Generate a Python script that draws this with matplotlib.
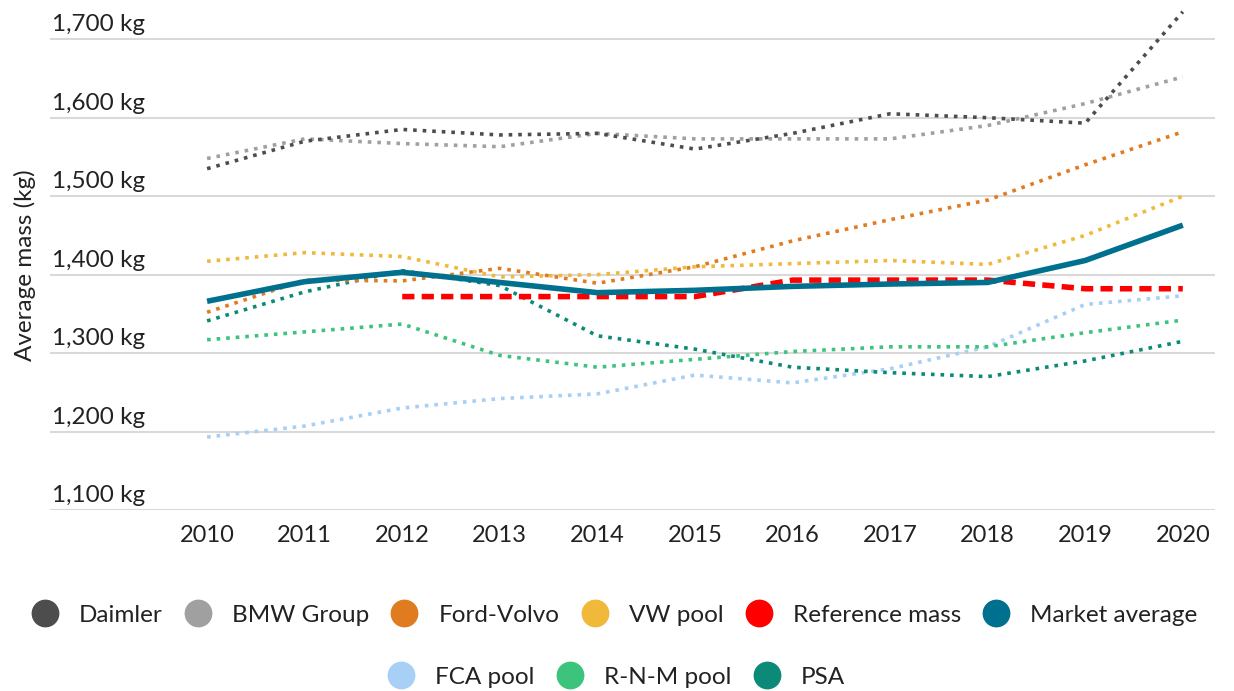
import numpy as np
import matplotlib.pyplot as plt
from matplotlib.lines import Line2D
from matplotlib.transforms import blended_transform_factory

plt.rcParams['font.family'] = ['Lato', 'DejaVu Sans']

years = list(range(2010, 2021))

daimler = [1535, 1570, 1585, 1578, 1580, 1560, 1580, 1605, 1600, 1593, 1735]
bmw = [1548, 1573, 1567, 1563, 1580, 1573, 1573, 1573, 1590, 1618, 1652]
ford_volvo = [1352, 1393, 1392, 1408, 1389, 1410, 1443, 1470, 1495, 1540, 1582]
vw_pool = [1417, 1428, 1423, 1397, 1400, 1410, 1414, 1418, 1413, 1450, 1500]
reference_years = list(range(2012, 2021))
reference_mass = [1372, 1372, 1372, 1372, 1393, 1393, 1393, 1382, 1382]
market_avg = [1366, 1391, 1403, 1390, 1377, 1380, 1385, 1388, 1390, 1418, 1463]
fca_pool = [1193, 1207, 1230, 1242, 1248, 1272, 1262, 1280, 1308, 1362, 1373]
rnm_pool = [1317, 1327, 1337, 1297, 1282, 1292, 1302, 1308, 1308, 1326, 1342]
psa = [1341, 1378, 1405, 1386, 1322, 1305, 1282, 1275, 1270, 1290, 1315]

ytick_values = [1100, 1200, 1300, 1400, 1500, 1600, 1700]

colors = {
    'Daimler': '#4d4d4d',
    'BMW Group': '#a0a0a0',
    'Ford-Volvo': '#e07b20',
    'VW pool': '#f0b93a',
    'Reference mass': '#ff0000',
    'Market average': '#00708f',
    'FCA pool': '#a8cff5',
    'R-N-M pool': '#3cc47c',
    'PSA': '#0b8a78',
}

fig = plt.figure(figsize=(12.34, 6.91), dpi=100)
ax = fig.add_axes([50 / 1234, 1 - 510 / 691, 1165 / 1234, 510 / 691])

dot = dict(linestyle=':', linewidth=2.6)
ax.plot(years, fca_pool, color=colors['FCA pool'], **dot)
ax.plot(years, rnm_pool, color=colors['R-N-M pool'], **dot)
ax.plot(years, psa, color=colors['PSA'], **dot)
ax.plot(years, bmw, color=colors['BMW Group'], **dot)
ax.plot(years, daimler, color=colors['Daimler'], **dot)
ax.plot(years, ford_volvo, color=colors['Ford-Volvo'], **dot)
ax.plot(years, vw_pool, color=colors['VW pool'], **dot)
ax.plot(reference_years, reference_mass, color=colors['Reference mass'],
        linestyle=(0, (2.2, 1.3)), linewidth=4)
ax.plot(years, market_avg, color=colors['Market average'], linewidth=4,
        solid_capstyle='butt')

ax.set_xlim(2008.39, 2020.33)
ax.set_ylim(1100, 1750)
ax.set_xticks(years)
ax.set_xticklabels([str(y) for y in years], fontsize=17, color='#222222')
ax.tick_params(axis='x', length=0, pad=11)
ax.set_yticks(ytick_values)
ax.set_yticklabels([])
ax.tick_params(axis='y', length=0)
ax.grid(axis='y', color='#d9d9d9', linewidth=1.5)
ax.set_axisbelow(True)
for s in ax.spines.values():
    s.set_visible(False)

trans = blended_transform_factory(ax.transAxes, ax.transData)
for v in ytick_values:
    ax.text(0.002, v + 5, f'{v:,} kg', transform=trans, ha='left', va='bottom',
            fontsize=17.5, color='#222222')

fig.text(25 / 1234, 1 - 265 / 691, 'Average mass (kg)', rotation=90,
         ha='center', va='center', fontsize=17.5, color='#222222')

def handles(names):
    return [Line2D([], [], linestyle='none', marker='o', markersize=19,
                   markerfacecolor=colors[n], markeredgecolor=colors[n], label=n)
            for n in names]

row1 = ['Daimler', 'BMW Group', 'Ford-Volvo', 'VW pool', 'Reference mass', 'Market average']
row2 = ['FCA pool', 'R-N-M pool', 'PSA']
leg_kw = dict(frameon=False, fontsize=17.5, handlelength=1.0, handletextpad=0.9,
              columnspacing=0.95, labelcolor='#222222')
fig.legend(handles=handles(row1), ncol=6, loc='center',
           bbox_to_anchor=(615 / 1234, 1 - 615 / 691), **leg_kw)
fig.legend(handles=handles(row2), ncol=3, loc='center',
           bbox_to_anchor=(617 / 1234, 1 - 677 / 691), **leg_kw)

fig.savefig('out.png', dpi=100)
